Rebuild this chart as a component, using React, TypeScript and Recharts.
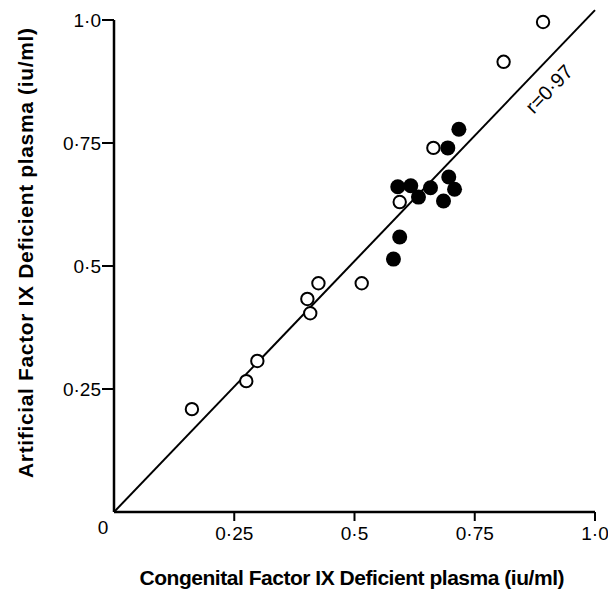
import {
  ScatterChart,
  Scatter,
  XAxis,
  YAxis,
  ReferenceLine,
  Customized,
} from "recharts";

// open circles
const OPEN_X = [0.162, 0.275, 0.298, 0.402, 0.408, 0.425, 0.515, 0.594, 0.664, 0.81, 0.892];
const OPEN_Y = [0.209, 0.266, 0.307, 0.433, 0.404, 0.465, 0.465, 0.63, 0.74, 0.915, 0.996];

// filled circles
const FILLED_X = [0.581, 0.594, 0.59, 0.617, 0.633, 0.658, 0.685, 0.696, 0.708, 0.694, 0.717];
const FILLED_Y = [0.514, 0.559, 0.661, 0.663, 0.64, 0.659, 0.632, 0.681, 0.656, 0.74, 0.778];

const TICKS = [0.25, 0.5, 0.75, 1.0];
const TICK_LABELS = ["0·25", "0·5", "0·75", "1·0"];

// regression line ends
const FIT_LINE = [
  { x: 0, y: 0 },
  { x: 1.0, y: 1.02 },
];

const openData = OPEN_X.map((x, i) => ({ x, y: OPEN_Y[i] }));
const filledData = FILLED_X.map((x, i) => ({ x, y: FILLED_Y[i] }));

const FONT = "'Liberation Sans', Arial, Helvetica, sans-serif";

const fmt = (v: number) => {
  const i = TICKS.indexOf(v);
  return i >= 0 ? TICK_LABELS[i] : String(v);
};

const OpenDot = (p: any) => (
  <circle cx={p.cx} cy={p.cy} r={6.2} fill="#fff" stroke="#000" strokeWidth={2} />
);
const FilledDot = (p: any) => <circle cx={p.cx} cy={p.cy} r={7.5} fill="#000" />;

const XTick = (p: any) => (
  <text x={p.x} y={p.y} dy="0.71em" textAnchor="middle" fontSize={19} fontFamily={FONT} fill="#000">
    {fmt(p.payload.value)}
  </text>
);
const YTick = (p: any) => (
  <text x={p.x} y={p.y} dy="0.36em" textAnchor="end" fontSize={19} fontFamily={FONT} fill="#000">
    {fmt(p.payload.value)}
  </text>
);

const Texts = () => (
  <g fontFamily={FONT} fill="#000">
    <text x={103} y={527} textAnchor="middle" dominantBaseline="central" fontSize={19}>
      0
    </text>
    <text
      x={352}
      y={585}
      textAnchor="middle"
      fontSize={21}
      fontWeight="bold"
      textLength={425}
      lengthAdjust="spacing"
    >
      Congenital Factor IX Deficient plasma (iu/ml)
    </text>
    <text
      transform="translate(33,253) rotate(-90)"
      textAnchor="middle"
      fontSize={21}
      fontWeight="bold"
      textLength={450}
      lengthAdjust="spacing"
    >
      Artificial Factor IX Deficient plasma (iu/ml)
    </text>
    <text
      transform="translate(549,89) rotate(-46)"
      textAnchor="middle"
      dominantBaseline="central"
      fontSize={20}
    >
      r=0·97
    </text>
  </g>
);

export default function App() {
  return (
    <div style={{ position: "absolute", left: 0, top: 0, background: "#fff" }}>
      <ScatterChart
        width={608}
        height={592}
        margin={{ top: 20, right: 13, bottom: 40, left: 0 }}
      >
        <XAxis
          type="number"
          dataKey="x"
          domain={[0, 1]}
          ticks={TICKS}
          height={40}
          tickSize={9}
          tickMargin={6}
          axisLine={{ stroke: "#000", strokeWidth: 2.5 }}
          tickLine={{ stroke: "#000", strokeWidth: 2 }}
          tick={XTick}
        />
        <YAxis
          type="number"
          dataKey="y"
          domain={[0, 1]}
          ticks={TICKS}
          width={114}
          tickSize={12}
          tickMargin={1}
          axisLine={{ stroke: "#000", strokeWidth: 2.5 }}
          tickLine={{ stroke: "#000", strokeWidth: 2 }}
          tick={YTick}
        />
        <ReferenceLine
          segment={FIT_LINE}
          stroke="#000"
          strokeWidth={2}
          ifOverflow="visible"
        />
        <Scatter data={openData} shape={OpenDot} isAnimationActive={false} />
        <Scatter data={filledData} shape={FilledDot} isAnimationActive={false} />
        <Customized component={Texts} />
      </ScatterChart>
    </div>
  );
}
